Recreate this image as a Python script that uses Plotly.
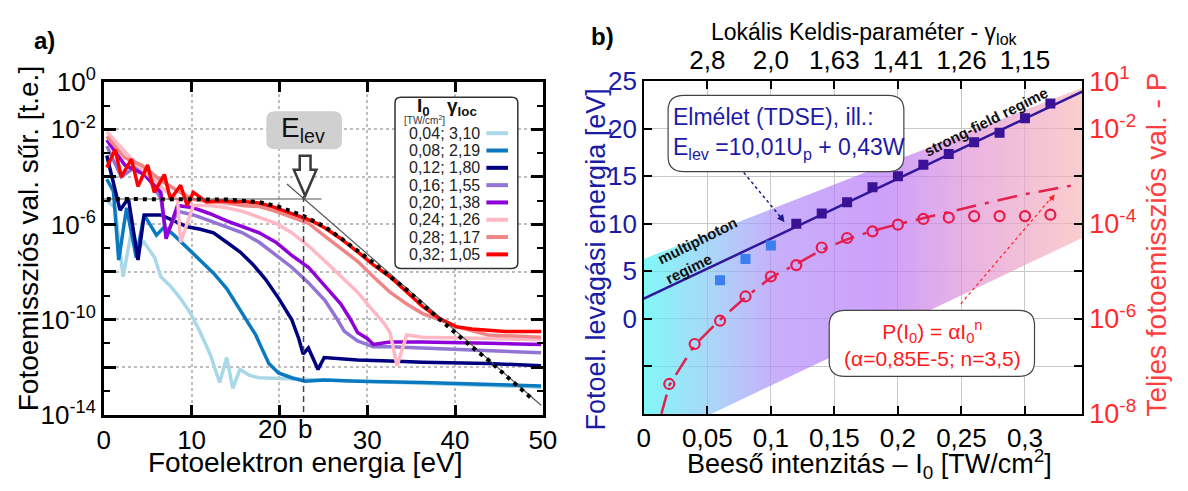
import numpy as np
import plotly.graph_objects as go

W, H = 1188, 491
FONT = "Liberation Sans, Arial, Helvetica, sans-serif"

# ---------------- Panel a: photoelectron spectra (log10 of probability density) ----------------
intensity_labels = ["0,04", "0,08", "0,12", "0,16", "0,20", "0,24", "0,28", "0,32"]
gamma_labels = ["3,10", "2,19", "1,80", "1,55", "1,38", "1,26", "1,17", "1,05"]
spectrum_colors = ["#a9d8e8", "#0b79c0", "#00007f", "#9273d6", "#9000d8", "#ffb8c4", "#f08585", "#ff0000"]

energy_004 = [0.35, 1.3, 2.2, 3.2, 3.9, 4.6, 5.8, 6.5, 7.6, 8.7, 9.9, 11.0, 12.1, 13.2, 14.0, 14.7, 15.5, 16.6, 17.7, 21.4, 28.9, 36.3, 49.8]
logdens_004 = [-5.0, -5.3, -8.2, -6.2, -7.0, -6.75, -7.4, -8.2, -8.6, -9.1, -9.75, -10.55, -11.45, -12.65, -11.6, -12.9, -12.1, -12.35, -12.45, -12.5, -12.6, -12.7, -12.85]

energy_008 = [0.35, 1.1, 1.7, 2.6, 3.7, 4.6, 6.0, 6.9, 8.0, 9.5, 11.0, 12.5, 14.0, 15.1, 16.2, 17.3, 18.1, 18.8, 19.9, 21.4, 22.9, 25.1, 28.9, 36.3, 49.8]
logdens_008 = [-4.1, -4.6, -7.5, -5.3, -7.4, -5.6, -6.45, -6.1, -6.45, -7.0, -7.5, -8.05, -8.7, -9.35, -10.0, -10.65, -11.3, -11.85, -12.25, -12.45, -12.6, -12.55, -12.6, -12.65, -12.8]

energy_012 = [0.35, 1.85, 2.8, 3.9, 4.6, 6.5, 8.0, 9.5, 11.0, 12.5, 14.0, 15.5, 16.9, 18.4, 19.9, 21.4, 22.2, 22.7, 23.3, 24.4, 25.1, 26.6, 28.9, 32.6, 36.3, 43.8, 49.8]
logdens_012 = [-3.1, -5.4, -4.9, -7.5, -5.6, -5.6, -5.85, -6.1, -6.2, -6.35, -6.75, -7.15, -7.65, -8.3, -9.1, -10.0, -10.8, -11.45, -11.2, -12.1, -11.6, -11.65, -11.7, -11.75, -11.8, -11.85, -11.95]

energy_016 = [0.35, 2.0, 3.5, 5.0, 6.5, 7.1, 8.4, 10.2, 12.1, 14.0, 15.8, 17.7, 19.6, 21.4, 23.3, 25.2, 26.6, 27.4, 28.9, 30.7, 32.6, 36.3, 43.8, 49.8]
logdens_016 = [-2.7, -4.0, -3.6, -4.0, -4.9, -6.5, -5.45, -5.6, -5.85, -6.1, -6.35, -6.75, -7.3, -7.8, -8.45, -9.2, -10.0, -10.5, -10.9, -11.15, -11.15, -11.2, -11.3, -11.4]

energy_020 = [0.35, 2.4, 4.6, 6.5, 7.1, 8.4, 10.2, 12.1, 14.0, 15.8, 17.7, 19.6, 21.4, 23.3, 25.2, 27.0, 28.1, 28.9, 30.0, 30.7, 32.6, 36.3, 43.8, 49.8]
logdens_020 = [-2.45, -3.5, -3.9, -4.65, -6.6, -5.2, -5.3, -5.55, -5.85, -6.1, -6.35, -6.75, -7.3, -7.8, -8.6, -9.35, -10.0, -10.55, -10.8, -11.05, -10.95, -10.95, -11.0, -11.05]

energy_024 = [0.35, 2.8, 5.0, 7.25, 8.4, 8.75, 10.2, 12.1, 14.0, 15.8, 17.7, 19.6, 21.4, 23.3, 25.2, 27.0, 28.9, 30.7, 31.9, 32.6, 33.4, 34.5, 36.3, 43.8, 49.8]
logdens_024 = [-2.1, -3.1, -3.9, -4.65, -4.95, -6.75, -5.2, -5.2, -5.3, -5.45, -5.7, -5.95, -6.35, -6.9, -7.55, -8.2, -8.85, -9.65, -10.15, -10.55, -11.95, -10.65, -10.75, -10.8, -10.85]

energy_028 = [0.35, 2.4, 4.3, 6.5, 8.7, 10.2, 12.1, 14.0, 15.8, 17.7, 19.6, 21.4, 23.3, 25.2, 27.0, 28.9, 30.7, 32.6, 34.5, 36.3, 38.2, 40.1, 43.8, 49.8]
logdens_028 = [-2.3, -3.2, -3.5, -4.15, -4.65, -4.95, -5.05, -5.1, -5.2, -5.25, -5.45, -5.7, -5.95, -6.5, -7.0, -7.55, -8.2, -8.85, -9.35, -9.75, -10.0, -10.3, -10.65, -10.75]

energy_032 = [0.35, 1.3, 2.0, 3.15, 3.9, 5.0, 5.75, 6.9, 7.6, 8.75, 9.5, 10.2, 11.7, 13.2, 14.7, 16.2, 17.7, 19.2, 20.7, 22.2, 23.7, 25.2, 27.0, 28.9, 30.7, 32.6, 34.5, 36.3, 38.2, 40.1, 41.9, 45.7, 49.8]
logdens_032 = [-3.6, -2.85, -4.0, -3.25, -4.4, -3.5, -4.65, -3.9, -4.95, -4.35, -5.2, -4.65, -5.05, -5.0, -5.05, -5.05, -5.1, -5.25, -5.45, -5.65, -5.85, -6.15, -6.6, -7.15, -7.7, -8.2, -8.85, -9.45, -9.95, -10.3, -10.4, -10.5, -10.5]

# fit of the 0.32 TW/cm2 spectrum (black dotted)
fit_energy = [0.35, 6.5, 14.0, 17.7, 19.9, 22.7, 25.2, 27.4, 30.0, 32.6, 34.8, 37.1, 39.3, 41.6, 43.8, 46.0, 49.0]
fit_logdens = [-4.93, -4.93, -4.95, -5.06, -5.25, -5.64, -6.10, -6.69, -7.41, -8.19, -8.84, -9.63, -10.34, -11.06, -11.71, -12.44, -13.41]

# cutoff construction lines
plateau_energy = [0.0, 24.8]
plateau_logdens = [-4.93, -4.93]
slope_energy = [20.86, 49.8]
slope_logdens = [-4.30, -13.61]
cutoff_energy_b = 22.75
cutoff_marker_logdens = [-4.8, -14.0]
energy_tick_vals = [0, 10, 20, 30, 40, 50]
energy_tick_text = ["0", "10", "", "30", "40", "50"]

# ---------------- Panel b data ----------------
intensity_mp = [0.06, 0.08, 0.10]
cutoff_mp = [4.05, 6.3, 7.7]
intensity_sf = [0.12, 0.14, 0.16, 0.18, 0.20, 0.22, 0.24, 0.26, 0.28, 0.30, 0.32]
cutoff_sf = [10.0, 11.07, 12.27, 13.84, 14.99, 16.19, 17.34, 18.58, 19.56, 21.09, 22.63]
theory_intensity = [0.0, 0.345]
theory_cutoff = [2.12, 23.9]
yield_intensity = [0.02, 0.04, 0.06, 0.08, 0.10, 0.12, 0.14, 0.16, 0.18, 0.20, 0.22, 0.24, 0.26, 0.28, 0.30, 0.32]
yield_log = [-7.37, -6.53, -6.04, -5.53, -5.11, -4.87, -4.50, -4.30, -4.16, -4.02, -3.90, -3.87, -3.84, -3.84, -3.84, -3.81]
yield_fit_intensity = [0.0138, 0.02, 0.04, 0.06, 0.08, 0.10, 0.12, 0.14, 0.16, 0.18, 0.20, 0.22, 0.25, 0.28, 0.30, 0.336]
yield_fit_log = [-8.0, -7.4, -6.55, -6.02, -5.55, -5.13, -4.85, -4.55, -4.33, -4.15, -4.01, -3.88, -3.68, -3.5, -3.38, -3.2]
band_intensity = [0.0, 0.053, 0.345, 0.345, 0.0]
band_cutoff = [-10.0, -10.0, 8.5, 24.3, 6.3]
gamma_tick_vals = [0.05, 0.10, 0.15, 0.20, 0.25, 0.30]
gamma_tick_text = ["2,8", "2,0", "1,63", "1,41", "1,26", "1,15"]
intensity_tick_vals = [0, 0.05, 0.10, 0.15, 0.20, 0.25, 0.30]
intensity_tick_text = ["0", "0,05", "0,1", "0,15", "0,2", "0,25", "0,3"]

spectra = [
    (energy_004, logdens_004), (energy_008, logdens_008), (energy_012, logdens_012), (energy_016, logdens_016),
    (energy_020, logdens_020), (energy_024, logdens_024), (energy_028, logdens_028), (energy_032, logdens_032),
]


def X(px):
    return px / W


def Y(py):
    return 1 - py / H


def rrect(x0, y0, x1, y1, r):
    return (f"M {X(x0 + r)},{Y(y0)} L {X(x1 - r)},{Y(y0)} Q {X(x1)},{Y(y0)} {X(x1)},{Y(y0 + r)} "
            f"L {X(x1)},{Y(y1 - r)} Q {X(x1)},{Y(y1)} {X(x1 - r)},{Y(y1)} "
            f"L {X(x0 + r)},{Y(y1)} Q {X(x0)},{Y(y1)} {X(x0)},{Y(y1 - r)} "
            f"L {X(x0)},{Y(y0 + r)} Q {X(x0)},{Y(y0)} {X(x0 + r)},{Y(y0)} Z")


fig = go.Figure()

# ---- panel a traces ----
for (en, ld), col in zip(spectra, spectrum_colors):
    fig.add_trace(go.Scatter(x=en, y=10.0 ** np.array(ld), mode="lines",
                             line=dict(color=col, width=3.5), xaxis="x", yaxis="y", showlegend=False))
fig.add_trace(go.Scatter(x=plateau_energy, y=10.0 ** np.array(plateau_logdens), mode="lines",
                         line=dict(color="#555555", width=1.2), xaxis="x", yaxis="y", showlegend=False))
fig.add_trace(go.Scatter(x=slope_energy, y=10.0 ** np.array(slope_logdens), mode="lines",
                         line=dict(color="#555555", width=1.2), xaxis="x", yaxis="y", showlegend=False))
fig.add_trace(go.Scatter(x=fit_energy, y=10.0 ** np.array(fit_logdens), mode="lines",
                         line=dict(color="black", width=4, dash="4px,5px"), xaxis="x", yaxis="y", showlegend=False))
fig.add_trace(go.Scatter(x=[cutoff_energy_b, cutoff_energy_b], y=10.0 ** np.array(cutoff_marker_logdens), mode="lines",
                         line=dict(color="#444444", width=1.5, dash="6px,4px"), xaxis="x", yaxis="y", showlegend=False))

# ---- panel b traces ----
fig.add_trace(go.Scatter(
    x=band_intensity, y=band_cutoff, mode="lines", fill="toself", line=dict(width=0),
    fillgradient=dict(type="horizontal", colorscale=[
        [0.0, "rgba(74,245,245,0.7)"], [0.15, "rgba(134,198,245,0.7)"], [0.3, "rgba(176,141,248,0.7)"],
        [0.55, "rgba(184,119,248,0.7)"], [0.75, "rgba(226,148,212,0.7)"], [1.0, "rgba(248,184,184,0.7)"]]),
    xaxis="x2", yaxis="y2", showlegend=False, hoverinfo="skip"))
fig.add_trace(go.Scatter(x=theory_intensity, y=theory_cutoff, mode="lines",
                         line=dict(color="#30169a", width=2.5), xaxis="x2", yaxis="y2", showlegend=False))
fig.add_trace(go.Scatter(x=intensity_mp, y=cutoff_mp, mode="markers",
                         marker=dict(symbol="square", size=10, color="#3a7ef2"), xaxis="x2", yaxis="y2", showlegend=False))
fig.add_trace(go.Scatter(x=intensity_sf, y=cutoff_sf, mode="markers",
                         marker=dict(symbol="square", size=10, color="#3a1296"), xaxis="x2", yaxis="y2", showlegend=False))
fig.add_trace(go.Scatter(x=yield_fit_intensity, y=10.0 ** np.array(yield_fit_log), mode="lines",
                         line=dict(color="#e3204e", width=2.5, dash="20px,9px,4px,9px"),
                         xaxis="x2", yaxis="y3", showlegend=False))
fig.add_trace(go.Scatter(x=yield_intensity, y=10.0 ** np.array(yield_log), mode="markers",
                         marker=dict(symbol="circle-open", size=10, color="#e8194b", line=dict(width=2.2)),
                         xaxis="x2", yaxis="y3", showlegend=False))
fig.add_trace(go.Scatter(x=[None], y=[None], xaxis="x3", yaxis="y2", showlegend=False))

# ---- shapes ----
shapes = []
# E_lev box and hollow arrow
shapes.append(dict(type="path", xref="paper", yref="paper", path=rrect(264, 99, 341, 140, 9),
                   fillcolor="#d0d0d0", line=dict(width=0), layer="above"))
arrow_pts = [(298, 147), (309, 147), (309, 162), (315, 162), (303.5, 190), (292, 162), (298, 162)]
arrow_path = "M " + " L ".join(f"{X(a)},{Y(b)}" for a, b in arrow_pts) + " Z"
shapes.append(dict(type="path", xref="paper", yref="paper", path=arrow_path,
                   fillcolor="white", line=dict(color="#3a3a3a", width=2.5), layer="above"))
# legend box
shapes.append(dict(type="path", xref="paper", yref="paper", path=rrect(395, 84, 520, 268, 6),
                   fillcolor="white", line=dict(color="#333333", width=1.5), layer="above"))
leg_y0, leg_dy = 122.7, 18.6
for i, col in enumerate(spectrum_colors):
    yy = leg_y0 + i * leg_dy
    shapes.append(dict(type="line", xref="paper", yref="paper", x0=X(488), x1=X(510), y0=Y(yy), y1=Y(yy),
                       line=dict(color=col, width=4), layer="above"))
# panel b boxes
shapes.append(dict(type="path", xref="paper", yref="paper", path=rrect(673, 82, 913, 164, 16),
                   fillcolor="white", line=dict(color="#444444", width=1.2), layer="above"))
shapes.append(dict(type="path", xref="paper", yref="paper", path=rrect(837, 313, 1046, 384, 16),
                   fillcolor="white", line=dict(color="#444444", width=1.2), layer="above"))
# dotted pointer lines
shapes.append(dict(type="line", xref="paper", yref="paper", x0=X(750), y0=Y(165), x1=X(790), y1=Y(216),
                   line=dict(color="#1b1b8a", width=1.5, dash="dot"), layer="above"))
shapes.append(dict(type="line", xref="paper", yref="paper", x0=X(971), y0=Y(306), x1=X(1064), y1=Y(191),
                   line=dict(color="#ff2020", width=1.2, dash="dot"), layer="above"))

# ---- annotations ----
ann = []


def txt(px, py, text, size, color="black", xanchor="center", yanchor="middle", angle=0, align="center"):
    ann.append(dict(x=X(px), y=Y(py), xref="paper", yref="paper", text=text, showarrow=False,
                    font=dict(family=FONT, size=size, color=color), xanchor=xanchor, yanchor=yanchor,
                    textangle=angle, align=align))


txt(38, 23, "<b>a)</b>", 24)
txt(606, 19, "<b>b)</b>", 24)
# panel a
txt(22, 236, "Fotoemissziós val. sűr. [t.e.]", 28, angle=-90)
txt(303, 477, "Fotoelektron energia [eV]", 28)
txt(270, 441, "20", 26)
txt(303, 441, "b", 26)
txt(301, 119, "E<sub>lev</sub>", 28, color="#111111")
txt(424, 95, "<b>I<sub>0</sub></b>", 19, color="#111111")
txt(463, 95, "<b>γ<sub>loc</sub></b>", 19, color="#111111")
txt(425, 108, "[TW/cm<sup>2</sup>]", 10, color="#333333")
for i, (il, gl) in enumerate(zip(intensity_labels, gamma_labels)):
    txt(484, leg_y0 + i * leg_dy, f"{il}; {gl}", 16, color="#222222", xanchor="right")
# panel b
txt(873, 16, "Lokális Keldis-paraméter - γ<sub>lok</sub>", 23)
txt(878, 478, "Beeső intenzitás – I<sub>0</sub> [TW/cm<sup>2</sup>]", 27)
txt(600, 258, "Fotoel. levágási energia [eV]", 27, color="#1b1ba5", angle=-90)
txt(1170, 242, "Teljes fotoemissziós val. - P", 28, color="#ff4040", angle=-90)
txt(676, 123, "Elmélet (TDSE), ill.:<br>E<sub>lev</sub> =10,01U<sub>p</sub> + 0,43W", 23,
    color="#1e1aa8", xanchor="left", align="left")
txt(942, 349, "P(I<sub>0</sub>) = αI<sub>0</sub><sup>n</sup><br>(α=0,85E-5; n=3,5)", 21, color="#ff1a1a")
txt(997, 110, "<b>strong-field regime</b>", 15, color="#111111", angle=-26.5)
txt(703, 238, "<b>multiphoton</b>", 15, color="#111111", angle=-26.5)
txt(694, 268, "<b>regime</b>", 15, color="#111111", angle=-26.5)
# arrow heads
ann.append(dict(x=X(791.5), y=Y(218.5), xref="paper", yref="paper", text="", showarrow=True,
                ax=-6, ay=-8, arrowhead=2, arrowsize=1, arrowwidth=1.5, arrowcolor="#1b1b8a"))
ann.append(dict(x=X(1066.5), y=Y(188.5), xref="paper", yref="paper", text="", showarrow=True,
                ax=-6, ay=8, arrowhead=2, arrowsize=1, arrowwidth=1.2, arrowcolor="#ff2020"))

tickfont = dict(family=FONT, size=26, color="black")
axis_a = dict(showline=True, linecolor="black", linewidth=2.5, mirror="ticks", ticks="inside",
              tickcolor="black", tickwidth=2.5, showgrid=True, gridcolor="#bdbdbd", griddash="dot",
              gridwidth=1.5, zeroline=False, tickfont=tickfont)
axis_b = dict(showline=True, linecolor="black", linewidth=1.5, ticks="inside", tickcolor="black",
              tickwidth=1.5, ticklen=8, zeroline=False, tickfont=tickfont)

fig.update_layout(
    width=W, height=H, margin=dict(l=0, r=0, t=0, b=0),
    paper_bgcolor="white", plot_bgcolor="white", hovermode=False,
    font=dict(family=FONT, color="black"),
    xaxis=dict(domain=[X(98.5), X(545.5)], range=[0, 50], anchor="y",
               tickvals=energy_tick_vals, ticktext=energy_tick_text, ticklen=10, **axis_a),
    yaxis=dict(domain=[Y(425), Y(67.5)], type="log", range=[-14, 0], anchor="x",
               tickvals=[10.0 ** -k for k in range(0, 15, 2)],
               ticktext=["10<sup>0</sup>", "10<sup>-2</sup>", "", "10<sup>-6</sup>", "",
                         "10<sup>-10</sup>", "", "10<sup>-14</sup>"],
               ticklen=12, minor=dict(tickvals=[10.0 ** -k for k in range(1, 14, 2)], ticks="inside",
                                      ticklen=6, tickwidth=2, tickcolor="black", showgrid=False),
               **axis_a),
    xaxis2=dict(domain=[X(648.3), X(1094.5)], range=[0, 0.345], anchor="y2",
                tickvals=intensity_tick_vals, ticktext=intensity_tick_text,
                showgrid=True, gridcolor="#c8c8c8", gridwidth=1, **axis_b),
    xaxis3=dict(overlaying="x2", side="top", range=[0, 0.345], anchor="y2",
                tickvals=gamma_tick_vals, ticktext=gamma_tick_text, showgrid=False, **axis_b),
    yaxis2=dict(domain=[Y(424.3), Y(66.7)], range=[-10, 25], anchor="x2",
                tickvals=[-5, 0, 5, 10, 15, 20, 25], ticktext=["", "0", "5", "10", "15", "20", "25"],
                showgrid=True, gridcolor="#c8c8c8", gridwidth=1,
                **{**axis_b, "tickfont": dict(family=FONT, size=26, color="#1b1ba5")}),
    yaxis3=dict(overlaying="y2", side="right", type="log", range=[-8, -1], anchor="x2",
                tickvals=[10.0 ** -k for k in range(1, 9)],
                ticktext=["10<sup>1</sup>", "10<sup>-2</sup>", "", "10<sup>-4</sup>", "", "10<sup>-6</sup>", "",
                          "10<sup>-8</sup>"],
                showgrid=False, **{**axis_b, "tickfont": dict(family=FONT, size=27, color="#ff2a2a")}),
    shapes=shapes, annotations=ann,
)

fig.write_html("out.html")
